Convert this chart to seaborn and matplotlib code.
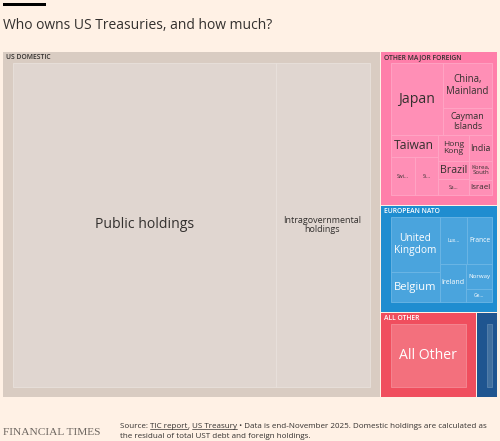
import numpy as np
import pandas as pd
import matplotlib
matplotlib.use("Agg")
import matplotlib.pyplot as plt
import seaborn as sns
from matplotlib.patches import Rectangle
from matplotlib.textpath import TextPath
from matplotlib.font_manager import FontProperties

# ---------------- data ($bn, end-November 2025) ----------------
domestic_names = ["Public holdings", "Intragovernmental holdings"]
domestic_values = [21307, 7623]
domestic_labels = ["Public holdings", "Intragovernmental\nholdings"]

major_names = ["Japan", "China, Mainland", "Cayman Islands", "Taiwan", "Switzerland",
               "Singapore", "Hong Kong", "India", "Brazil", "Saudi Arabia",
               "Korea, South", "Israel"]
major_values = [1178, 684, 421, 318, 298, 273, 250, 184, 180, 156, 134, 112]
major_labels = ["Japan", "China,\nMainland", "Cayman\nIslands", "Taiwan", "Swi...",
                "Si...", "Hong\nKong", "India", "Brazil", "Sa...", "Korea,\nSouth", "Israel"]

nato_names = ["United Kingdom", "Belgium", "Luxembourg", "France", "Ireland", "Norway", "Germany"]
nato_values = [907, 488, 433, 387, 339, 220, 115]
nato_labels = ["United\nKingdom", "Belgium", "Lux...", "France", "Ireland", "Norway", "Ge..."]

allother_names = ["All Other"]
allother_values = [1820]
allother_labels = ["All Other"]

canada_names = ["Canada"]
canada_values = [490]
canada_labels = [""]

group_names = ["US DOMESTIC", "OTHER MAJOR FOREIGN", "EUROPEAN NATO", "ALL OTHER", "OTHER NATO"]

title = "Who owns US Treasuries, and how much?"
source_1 = ["Source: ", "TIC report", ", ", "US Treasury",
            " \u2022 Data is end-November 2025. Domestic holdings are calculated as"]
source_2 = "the residual of total UST debt and foreign holdings."

# ---------------- styling ----------------
BG = "#fff1e5"
TXT = "#33302e"
group_styles = {
    "US DOMESTIC":         dict(outer="#d9ccc2", leaf="#e0d6d0", edge="#e9e1dc", text=TXT, gtext=TXT),
    "OTHER MAJOR FOREIGN": dict(outer="#ff7faa", leaf="#ff8fb6", edge="#ffa6c5", text=TXT, gtext=TXT),
    "EUROPEAN NATO":       dict(outer="#1f8dd0", leaf="#4aa4dd", edge="#6db6e5", text="white", gtext="white"),
    "ALL OTHER":           dict(outer="#f04e5e", leaf="#f3707d", edge="#f58b95", text="white", gtext="white"),
    "OTHER NATO":          dict(outer="#1f5590", leaf="#41709f", edge="#5a83ad", text="white", gtext="white"),
}

sns.set_theme(style="white", rc={"figure.facecolor": BG, "axes.facecolor": BG})
plt.rcParams["font.family"] = ["Open Sans", "DejaVu Sans"]

groups = pd.DataFrame({
    "group": group_names,
    "names": [domestic_names, major_names, nato_names, allother_names, canada_names],
    "values": [domestic_values, major_values, nato_values, allother_values, canada_values],
    "labels": [domestic_labels, major_labels, nato_labels, allother_labels, canada_labels],
})
groups["total"] = groups["values"].apply(sum)
groups = groups.sort_values("total", ascending=False).reset_index(drop=True)


# ---------------- d3-style binary treemap ----------------
def binary_layout(values, x0, y0, x1, y1):
    n = len(values)
    sums = [0.0]
    for v in values:
        sums.append(sums[-1] + v)
    rects = [None] * n

    def part(i, j, value, x0, y0, x1, y1):
        if i >= j - 1:
            rects[i] = (x0, y0, x1, y1)
            return
        off = sums[i]
        target = value / 2 + off
        k, hi = i + 1, j - 1
        while k < hi:
            mid = (k + hi) // 2
            if sums[mid] < target:
                k = mid + 1
            else:
                hi = mid
        if (target - sums[k - 1]) < (sums[k] - target) and i + 1 < k:
            k -= 1
        vl = sums[k] - off
        vr = value - vl
        if (x1 - x0) > (y1 - y0):
            xk = (x0 * vr + x1 * vl) / value
            part(i, k, vl, x0, y0, xk, y1)
            part(k, j, vr, xk, y0, x1, y1)
        else:
            yk = (y0 * vr + y1 * vl) / value
            part(i, k, vl, x0, y0, x1, yk)
            part(k, j, vr, x0, yk, x1, y1)

    part(0, n, sums[n], x0, y0, x1, y1)
    return rects


fig = plt.figure(figsize=(5, 4.41), dpi=100)
fig.patch.set_facecolor(BG)
ax = fig.add_axes([0, 0, 1, 1])
ax.set_xlim(0, 500)
ax.set_ylim(441, 0)
ax.axis("off")
sns.despine(ax=ax, left=True, bottom=True)

clip = Rectangle((0, 0), 497, 441, transform=ax.transData)

# extent of the treemap (right side overflows and is clipped)
X0, X1, Y0, Y1 = 3, 502, 52, 397
GAP = 1.0
PAD_T, PAD_L, PAD_R, PAD_B = 11, 10, 10, 10
fp = FontProperties(family=["Open Sans"])
PX = 100 / 72.0  # pixels per point
MIN_EM = 5.0
GFS = 4.9


def text_em_width(s):
    return max(TextPath((0, 0), line, size=1, prop=fp).get_extents().width for line in s.split("\n"))


grects = binary_layout(groups["total"].tolist(), X0 - GAP / 2, Y0 - GAP / 2, X1 + GAP / 2, Y1 + GAP / 2)
for gi, row in groups.iterrows():
    st = group_styles[row["group"]]
    gx0, gy0, gx1, gy1 = grects[gi]
    gx0 += GAP / 2; gy0 += GAP / 2; gx1 -= GAP / 2; gy1 -= GAP / 2
    p = Rectangle((gx0, gy0), gx1 - gx0, gy1 - gy0, facecolor=st["outer"], edgecolor="none")
    ax.add_patch(p)
    p.set_clip_path(clip)
    # group label
    gw = text_em_width(row["group"]) * GFS * PX
    if gw < (min(gx1, 497) - gx0) - 6:
        ax.text(gx0 + 3, gy0 + 5.6, row["group"], fontsize=GFS, fontweight="semibold",
                color=st["gtext"], ha="left", va="center")
    # leaves
    order = np.argsort(row["values"])[::-1]
    vals = [row["values"][i] for i in order]
    labs = [row["labels"][i] for i in order]
    nams = [row["names"][i] for i in order]
    lrects = binary_layout(vals, gx0 + PAD_L, gy0 + PAD_T, gx1 - PAD_R, gy1 - PAD_B)
    for (lx0, ly0, lx1, ly1), lab, nam in zip(lrects, labs, nams):
        q = Rectangle((lx0, ly0), lx1 - lx0, ly1 - ly0, facecolor=st["leaf"],
                      edgecolor=st["edge"], linewidth=0.6)
        ax.add_patch(q)
        q.set_clip_path(clip)
        if not lab:
            continue
        w, h = lx1 - lx0, ly1 - ly0
        nlines = lab.count("\n") + 1
        if lab.replace("\n", " ") != nam:
            em = MIN_EM
        else:
            em = min(14.0, 0.82 * w / text_em_width(lab), 0.78 * h / (1.2 * nlines))
            em = max(em, MIN_EM)
        ax.text((lx0 + lx1) / 2, (ly0 + ly1) / 2, lab, fontsize=em / PX, color=st["text"],
                ha="center", va="center", multialignment="center", linespacing=1.1)

# header
ax.add_patch(Rectangle((3, 3.4), 43, 2.6, facecolor="black", edgecolor="none"))
ax.text(3, 28.6, title, fontsize=10, color=TXT, ha="left", va="baseline")

# footer
ax.text(3.3, 435.0, "FINANCIAL TIMES", fontsize=8.2, color="#6e6761",
        family=["Liberation Serif", "DejaVu Serif"], ha="left", va="baseline")

fig.canvas.draw()
renderer = fig.canvas.get_renderer()
inv = ax.transData.inverted()
x = 120.0
FS = 5.75
for idx, piece in enumerate(source_1):
    t = ax.text(x, 428.0, piece, fontsize=FS, color=TXT, ha="left", va="baseline")
    bb = t.get_window_extent(renderer)
    (bx0, _), (bx1, _) = inv.transform([[bb.x0, 0], [bb.x1, 0]])
    if idx in (1, 3):
        ax.plot([bx0, bx1], [429.4, 429.4], color=TXT, linewidth=0.5)
    x = bx1
ax.text(120.0, 438.0, source_2, fontsize=FS, color=TXT, ha="left", va="baseline")

fig.savefig("out.png", dpi=100, facecolor=BG)
